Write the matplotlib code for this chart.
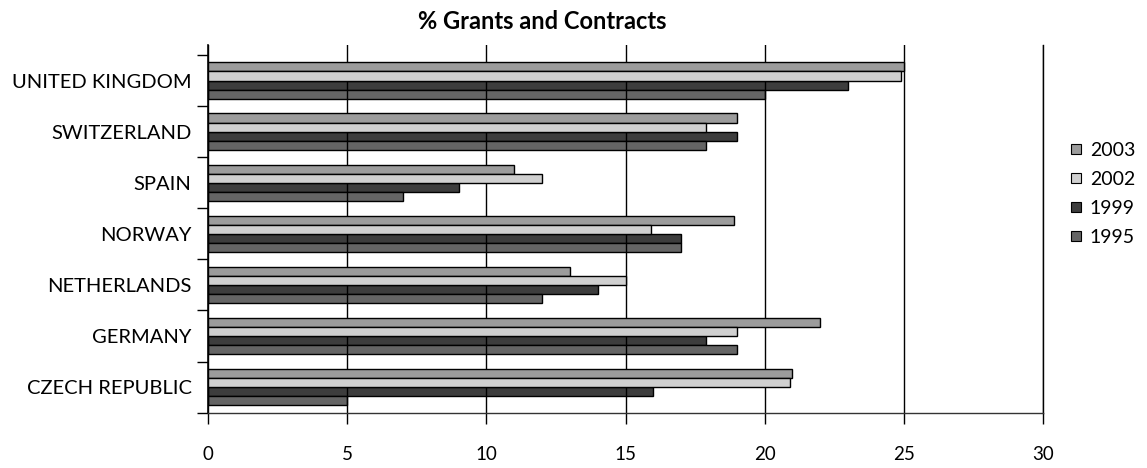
import numpy as np
import matplotlib.pyplot as plt
from matplotlib.lines import Line2D

plt.rcParams['font.family'] = ['Lato', 'DejaVu Sans']

# countries, bottom to top
countries = ["CZECH REPUBLIC", "GERMANY", "NETHERLANDS", "NORWAY",
             "SPAIN", "SWITZERLAND", "UNITED KINGDOM"]

# % grants and contracts per year, same order as countries
pct_2003 = [21, 22, 13, 18.9, 11, 19, 25]
pct_2002 = [20.9, 19, 15, 15.9, 12, 17.9, 24.9]
pct_1999 = [16, 17.9, 14, 17, 9, 19, 23]
pct_1995 = [5, 19, 12, 17, 7, 17.9, 20]

years = ["2003", "2002", "1999", "1995"]
colors = ["#9c9c9c", "#d0d0d0", "#3d3d3d", "#656565"]

fig = plt.figure(figsize=(11.47, 4.68), dpi=100)
ax = fig.add_axes([0.1816, 0.1182, 0.7275, 0.7856])

y = np.arange(len(countries))
h = 0.178
series = [pct_2003, pct_2002, pct_1999, pct_1995]
offsets = [1.5 * h, 0.5 * h, -0.5 * h, -1.5 * h]
# lighter bars sit above the gridlines, darker ones below
zorders = [3, 3, 1, 1]
for vals, off, c, z in zip(series, offsets, colors, zorders):
    ax.barh(y + off, vals, height=h, color=c, edgecolor="black",
            linewidth=1.0, zorder=z)

ax.set_xlim(0, 30)
ax.set_ylim(-0.5, 6.696)
ax.set_xticks(np.arange(0, 31, 5))
ax.xaxis.grid(True, color="black", linewidth=1.0)
for line in ax.get_xgridlines():
    line.set_zorder(2)

ax.set_yticks(y)
ax.set_yticklabels(countries, fontsize=14.5)
ax.set_yticks(np.arange(-0.5, 6.6, 1.0), minor=True)
ax.tick_params(axis="y", which="major", length=0, pad=12)
ax.tick_params(axis="y", which="minor", length=8, width=1.0)
ax.tick_params(axis="x", length=8, width=1.0, labelsize=13.5, pad=16)

ax.spines["top"].set_visible(False)
ax.spines["left"].set_linewidth(1.2)
ax.spines["right"].set_linewidth(1.0)
ax.spines["bottom"].set_linewidth(1.0)
ax.spines["bottom"].set_color("#333333")

fig.text(0.4727, 0.954, "% Grants and Contracts", ha="center", va="center",
         fontsize=17, fontweight="bold")

handles = [Line2D([], [], marker="s", linestyle="none", markersize=7,
                  markerfacecolor=c, markeredgecolor="black",
                  markeredgewidth=0.8) for c in colors]
fig.legend(handles, years, loc="center left", bbox_to_anchor=(0.9262, 0.585),
           frameon=False, fontsize=14, handlelength=0.6, handletextpad=0.42,
           labelspacing=0.62, borderaxespad=0)

fig.savefig("out.png", dpi=100)
